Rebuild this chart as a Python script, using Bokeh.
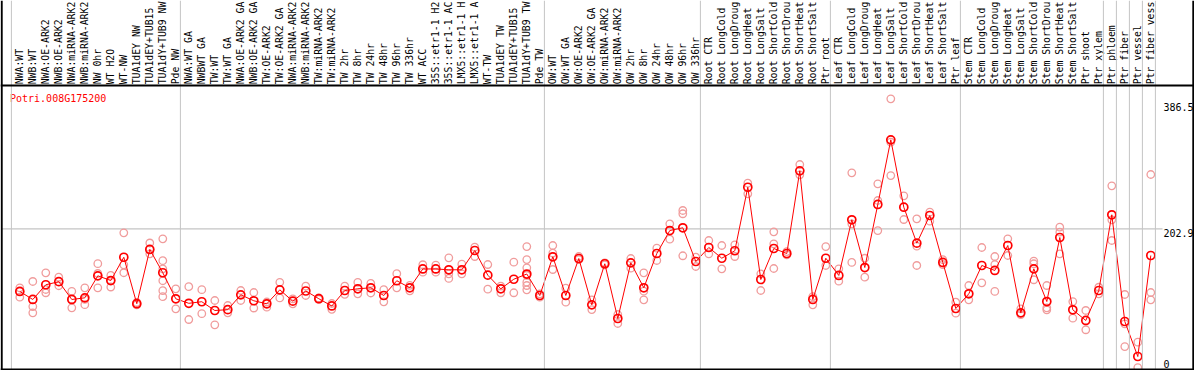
import numpy as np
from bokeh.plotting import figure
from bokeh.models import Range1d, Span
from bokeh.embed import file_html
from bokeh.resources import INLINE
from bokeh.core.properties import value

gene = "Potri.008G175200"

# sample names as far as they are visible in the header (long ones are cut at the top)
samples = [
    "NWA:WT", "NWB:WT", "NWA:OE-ARK2", "NWB:OE-ARK2", "NWA:miRNA-ARK2", "NWB:miRNA-ARK2",
    "NW 0hr", "WT H2O", "WT-NW", "TUA1dEY NW", "TUA1dEY+TUB15", "TUA1dY+TUB9 NW", "Pde NW",
    "NWA:WT GA", "NWBWT GA", "TW:WT", "TW:WT GA", "NWA:OE-ARK2 GA", "NWB:OE-ARK2 GA",
    "TW:OE-ARK2", "TW:OE-ARK2 GA", "NWA:miRNA-ARK2", "NWB:miRNA-ARK2", "TW:miRNA-ARK2",
    "TW:miRNA-ARK2", "TW 2hr", "TW 8hr", "TW 24hr", "TW 48hr", "TW 96hr", "TW 336hr",
    "WT ACC", "35S::etr1-1 H2", "35S::etr1-1 AC", "LMX5::etr1-1 H", "LMX5::etr1-1 A",
    "WT-TW", "TUA1dEY TW", "TUA1dEY+TUB15", "TUA1dY+TUB9 TW", "Pde TW",
    "OW:WT", "OW:WT GA", "OW:OE-ARK2", "OW:OE-ARK2 GA", "OW:miRNA-ARK2", "OW:miRNA-ARK2",
    "OW 2hr", "OW 8hr", "OW 24hr", "OW 48hr", "OW 96hr", "OW 336hr",
    "Root CTR", "Root LongCold", "Root LongDroug", "Root LongHeat", "Root LongSalt",
    "Root ShortCold", "Root ShortDrou", "Root ShortHeat", "Root ShortSalt", "Ptr root",
    "Leaf CTR", "Leaf LongCold", "Leaf LongDroug", "Leaf LongHeat", "Leaf LongSalt",
    "Leaf ShortCold", "Leaf ShortDrou", "Leaf ShortHeat", "Leaf ShortSalt", "Ptr leaf",
    "Stem CTR", "Stem LongCold", "Stem LongDroug", "Stem LongHeat", "Stem LongSalt",
    "Stem ShortCold", "Stem ShortDrou", "Stem ShortHeat", "Stem ShortSalt", "Ptr shoot",
    "Ptr xylem", "Ptr phloem", "Ptr fiber", "Ptr vessel", "Ptr fiber vess",
]

means = [
    111.3, 99.6, 121.1, 125.6, 99.6, 102.0, 134.2, 127.3, 161.3, 93.4, 172.7, 138.7, 100.6,
    94.0, 96.3, 83.5, 84.7, 106.4, 97.7, 93.3, 113.7, 97.1, 112.0, 100.7, 90.1, 112.7, 115.2,
    116.7, 105.4, 127.0, 116.7, 144.2, 144.2, 143.0, 143.0, 171.2, 135.1, 115.2, 129.2, 136.8,
    105.4,
    162.0, 105.4, 159.5, 91.8, 151.8, 71.8, 153.2, 116.7, 166.8, 200.4, 204.4, 155.1,
    175.6, 159.9, 170.8, 263.7, 128.8, 174.1, 166.8, 287.7, 99.6, 159.9,
    134.7, 216.1, 146.3, 238.5, 333.0, 234.5, 181.9, 222.4, 153.7, 86.4,
    107.9, 149.3, 142.0, 178.5, 80.1, 144.4, 96.6, 190.2, 84.5, 68.9, 112.7,
    223.4, 67.4, 16.2, 163.9,
]

replicates = [
    [116.7, 111.3, 102.9], [125.9, 89.3, 80.1], [138.6, 114.2, 109.4], [132.2, 119.7],
    [111.5, 99.6, 87.4], [116.7, 99.6, 92.0], [151.9, 137.6, 116.7], [134.7, 127.3, 117.8],
    [197.1, 150.3, 138.7], [95.2, 93.3, 91.8], [182.2, 172.7, 166.4],
    [188.3, 156.3, 144.4, 127.0, 112.4, 103.7], [115.2, 86.0],
    [118.3, 70.3], [113.9, 78.8], [98.1, 62.6], [90.8, 80.1], [112.7, 98.1], [109.8, 87.1],
    [95.9, 88.3], [124.7, 101.8], [100.6, 93.3], [119.0, 105.4], [101.8, 99.9], [93.7, 85.2],
    [119.0, 107.2], [124.7, 107.9], [123.0, 109.1], [113.9, 96.2], [137.3, 116.7],
    [120.3, 112.3], [150.4, 139.5], [149.7, 139.5], [160.5, 137.1, 130.3], [151.2, 137.1],
    [176.0, 162.4], [150.7, 114.6], [119.0, 109.4], [154.1, 109.4],
    [177.0, 158.0, 145.9, 134.7, 124.9, 120.0, 113.7], [107.9, 102.9],
    [178.5, 167.3, 143.4], [116.1, 95.6], [162.4, 158.0], [99.1, 84.9], [153.2, 150.3],
    [77.6, 64.5], [159.5, 145.3], [138.6, 111.7, 99.1], [174.6, 156.6], [210.2, 187.7],
    [229.7, 224.9, 163.5], [161.4, 147.8],
    [185.8, 166.4], [178.5, 144.4], [179.5, 162.4], [269.6, 254.1], [137.1, 112.7],
    [198.5, 181.0, 144.9], [169.7, 164.9], [296.9, 281.9], [103.9, 91.8], [177.0, 149.3],
    [144.4, 126.3], [284.8, 210.2, 153.7], [159.9, 132.2], [268.7, 244.3, 200.4],
    [393.0, 329.5, 280.8], [251.2, 216.5], [217.5, 177.5, 149.3], [227.2, 214.0],
    [158.0, 150.7], [95.6, 79.5],
    [120.0, 99.1], [175.6, 124.0], [162.4, 150.7, 111.3], [188.3, 163.9], [86.0, 77.6],
    [155.6, 151.8, 128.4], [120.0, 87.4, 84.5], [205.3, 198.0, 166.4], [96.6, 72.2],
    [83.5, 55.3], [117.5, 107.9],
    [265.8, 216.1, 185.8], [106.9, 64.0, 30.8], [37.1, 0.0], [282.3, 109.8, 99.1],
]

group_starts = [0, 13, 41, 53, 63, 73, 84, 85, 86, 87, 88]
tick_values = [386.5, 202.9, 0]
tick_labels = ["386.5", "202.9", "0"]

# ---- layout geometry (reference pixel frame -> data units) ----
W, H = 1194, 370
COL0_PX, PITCH_PX = 19.3, 13.0
ZERO_PX, PX_PER_UNIT = 367.1, 0.684


def xd(px):
    return (px - COL0_PX) / PITCH_PX


def yd(py):
    return (ZERO_PX - py) / PX_PER_UNIT


MONO = value("DejaVu Sans Mono")

p = figure(
    width=W, height=H,
    x_range=Range1d(xd(0), xd(W)), y_range=Range1d(yd(H), yd(0)),
    toolbar_location=None, output_backend="svg",
    x_axis_location=None, y_axis_location=None,
    min_border=0, outline_line_color=None,
    background_fill_color="white", border_fill_color="white",
)
p.xgrid.visible = False
p.ygrid.visible = False

idx = list(range(len(samples)))

# group separator lines (full height)
for g in group_starts:
    p.add_layout(Span(location=g - 0.646, dimension="height",
                      line_color="#c4c4c4", line_width=1))

# middle grid line
p.segment(x0=[xd(1.5)], x1=[xd(1162)], y0=[tick_values[1]], y1=[tick_values[1]],
          line_color="#c4c4c4", line_width=1.2)

# borders and label separator
p.add_layout(Span(location=xd(1.2), dimension="height", line_color="black", line_width=2))
p.add_layout(Span(location=xd(1192.8), dimension="height", line_color="black", line_width=2))
p.add_layout(Span(location=yd(368.9), dimension="width", line_color="black", line_width=2))
p.add_layout(Span(location=yd(85), dimension="width", line_color="black", line_width=2))

# sample labels (vertical)
p.text(x=idx, y=[yd(83.8)] * len(samples), text=samples, angle=np.pi / 2,
       text_align="left", text_baseline="middle", text_font=MONO,
       text_font_size="9.8px", text_color="black")

# replicates
rx, ry = [], []
for i, reps in enumerate(replicates):
    for v in reps:
        rx.append(i)
        ry.append(v)
p.scatter(rx, ry, marker="circle", size=7.5, fill_color=None,
          line_color="#f09c9c", line_width=1.3)

# mean line and markers
p.line(idx, means, line_color="#ff0000", line_width=1)
p.scatter(idx, means, marker="circle", size=8, fill_color=None,
          line_color="#ff0000", line_width=1.7)

# gene id
p.text(x=[xd(9.5)], y=[yd(92.5)], text=[gene], text_align="left", text_baseline="top",
       text_font=MONO, text_font_size="10px", text_color="#ff0000")

# value labels
p.text(x=[xd(1163)] * 2, y=tick_values[:2], text=tick_labels[:2], text_align="left",
       text_baseline="top", text_font=MONO, text_font_size="10px", text_color="black")
p.text(x=[xd(1163)], y=tick_values[2:], text=tick_labels[2:], text_align="left",
       text_baseline="bottom", text_font=MONO, text_font_size="10px", text_color="black")

open("out.html", "w").write(file_html(p, INLINE))
